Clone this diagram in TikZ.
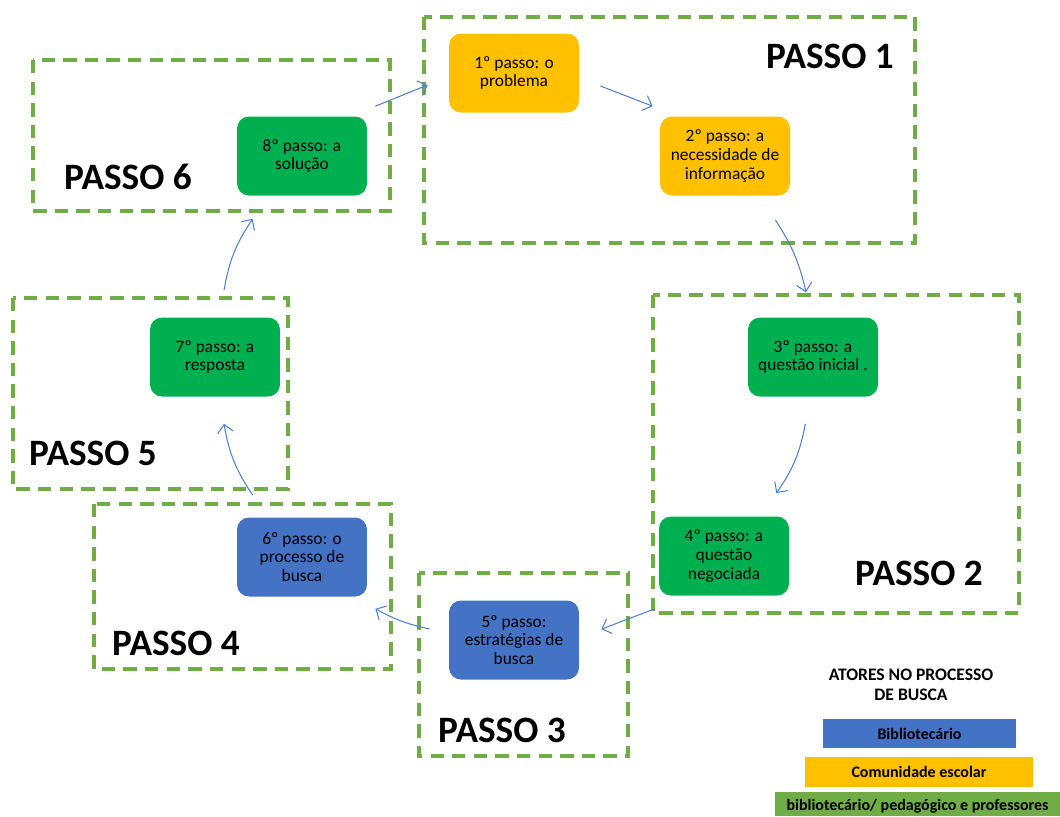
\documentclass[tikz,border=0pt]{standalone}
\usepackage{fontspec}
\setmainfont{Carlito}
\usetikzlibrary{arrows.meta}
\definecolor{gold}{HTML}{FFC000}
\definecolor{grn}{HTML}{00B050}
\definecolor{blu}{HTML}{4472C4}
\definecolor{lgrn}{HTML}{70AD47}
\definecolor{arrc}{HTML}{5080D4}
\begin{document}
\begin{tikzpicture}[x=0.02cm,y=-0.02cm,
 stepbox/.style={rounded corners=6.8pt, minimum width=2.6cm, minimum height=1.58cm, align=center, font=\fontsize{9.9}{10.6}\selectfont, inner sep=2pt},
 frame/.style={draw=lgrn, line width=2.3pt, dash pattern=on 7.6pt off 4.7pt},
 passo/.style={font=\fontsize{21.2}{24}\selectfont\bfseries, inner sep=0pt},
 flow/.style={draw=arrc, line width=0.6pt, -{Straight Barb[length=4.5pt,width=9pt]}},
 legbar/.style={font=\fontsize{9.1}{11}\selectfont\bfseries, inner sep=0pt},
]
\useasboundingbox (0,0) rectangle (1060,816);

% dashed frames
\draw[frame] (424,17) rectangle (915,243);
\draw[frame] (33,60) rectangle (390,211);
\draw[frame] (653,295) rectangle (1019,613);
\draw[frame] (13,298) rectangle (288,489);
\draw[frame] (94,504) rectangle (391,669);
\draw[frame] (419,573) rectangle (628,756);

% labels
\node[passo] (p1) at (830,56) {PASSO 1};
\node[passo] (p6) at (128,177) {PASSO 6};
\node[passo] (p2) at (919,573) {PASSO 2};
\node[passo] (p5) at (93,453) {PASSO 5};
\node[passo] (p4) at (176,643) {PASSO 4};
\node[passo] (p3) at (502,730) {PASSO 3};

% steps
\node[stepbox, fill=gold] (n1) at (514,73) {1º passo: o\\problema};
\node[stepbox, fill=gold] (n2) at (725,156) {2º passo: a\\necessidade de\\informação};
\node[stepbox, fill=grn] (n3) at (813,357) {3º passo: a\\questão inicial .};
\node[stepbox, fill=grn] (n4) at (724,556) {4º passo: a\\questão\\negociada};
\node[stepbox, fill=blu] (n5) at (514,640) {5º passo:\\estratégias de\\busca};
\node[stepbox, fill=blu] (n6) at (302,557) {6º passo: o\\processo de\\busca};
\node[stepbox, fill=grn] (n7) at (215,357) {7º passo: a\\resposta};
\node[stepbox, fill=grn] (n8) at (302,156) {8º passo: a\\solução};

% connectors
\draw[flow] ([shift={(8,-10)}]n8.north east) -- ([shift={(-21,12)}]n1.west);
\draw[flow] ([shift={(21,13)}]n1.east) -- ([shift={(-7,-10)}]n2.north west);
\draw[flow] ([shift={(-15,24)}]n2.south east) to[bend left=10] ([shift={(-7,-25)}]n3.north);
\draw[flow] ([shift={(-73,27)}]n3.south east) to[bend left=12] ([shift={(-13,-23)}]n4.north east);
\draw[flow] ([shift={(-4,13)}]n4.south west) -- ([shift={(22,29)}]n5.north east);
\draw[flow] ([shift={(-19,-11)}]n5.west) to[bend left=8] ([shift={(8,12)}]n6.south east);
\draw[flow] ([shift={(16,-22)}]n6.north west) to[bend left=12] ([shift={(9,27)}]n7.south);
\draw[flow] ([shift={(9,-27)}]n7.north) to[bend left=12] ([shift={(16,23)}]n8.south west);

% legend
\node[font=\fontsize{10}{11.4}\selectfont\bfseries, align=center] (lt) at (911,685) {ATORES NO PROCESSO\\DE BUSCA};
\node[legbar, fill=blu, minimum width=3.86cm, minimum height=0.58cm] (lb) at (919.5,733.5) {Bibliotecário};
\node[legbar, fill=gold, minimum width=4.56cm, minimum height=0.6cm] (lo) at (919,772) {Comunidade escolar};
\fill[lgrn] (775,792) rectangle (1060,816);
\node[legbar] (lg) at (917.5,806) {bibliotecário/ pedagógico e professores};
\end{tikzpicture}
\end{document}
